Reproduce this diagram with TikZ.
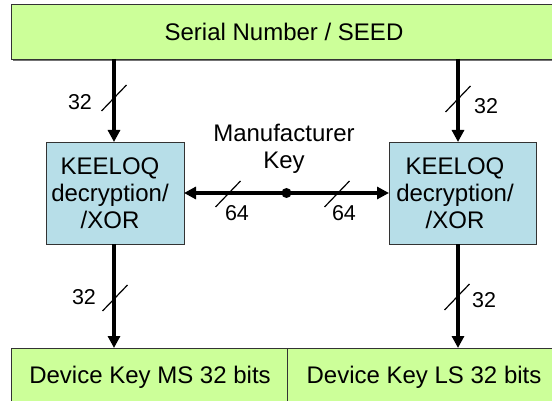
\documentclass[tikz,border=0pt]{standalone}
\usepackage{fontspec}
\setmainfont{Liberation Sans}
\usetikzlibrary{arrows.meta,calc,shadows}
\definecolor{lgreen}{HTML}{CCFF99}
\definecolor{lblue}{HTML}{B7DEE8}
\begin{document}
\begin{tikzpicture}[x=1pt,y=-1pt,
  every node/.style={inner sep=0pt, outer sep=0pt},
  greenbox/.style={draw=black!80, line width=0.9pt, fill=lgreen, rectangle, anchor=north west},
  keebox/.style={draw=black!80, line width=0.9pt, fill=lblue, rectangle, anchor=north west},
  txt/.style={font=\fontsize{24}{27}\selectfont, align=center},
  num/.style={font=\fontsize{21.5}{24}\selectfont},
  bus/.style={line width=4.8pt, -{Triangle[length=12pt,width=12pt]}},
  slash/.style={line width=1.2pt},
]
\useasboundingbox (0,0) rectangle (552,401);
% boxes
\node[greenbox, minimum width=547pt, minimum height=55pt,
      drop shadow={shadow xshift=1.5pt, shadow yshift=-2pt, fill=black!55, opacity=1}] (seed) at (11,4) {};
\node[txt, anchor=base] (seedt) at (284,41) {Serial Number / SEED};
\node[keebox, minimum width=138pt, minimum height=102pt] (k1) at (46,142) {};
\node[keebox, minimum width=147pt, minimum height=102pt] (k2) at (389,142) {};
\node[txt, anchor=north] (k1t) at (110,158) {KEELOQ\\decryption/\\/XOR};
\node[txt, anchor=north] (k2t) at (455,158) {KEELOQ\\decryption/\\/XOR};
\node[greenbox, minimum width=276pt, minimum height=70pt] (ms) at (11,348) {};
\node[greenbox, minimum width=276pt, minimum height=70pt] (ls) at (287,348) {};
\node[txt, anchor=base] (mst) at (150,383) {Device Key MS 32 bits};
\node[txt, anchor=base] (lst) at (424,383) {Device Key LS 32 bits};
\node[txt, anchor=north] (mk) at (284,124) {Manufacturer\\Key};
% columns
\coordinate (la) at (114,0);
\coordinate (ra) at (458,0);
% vertical buses
\draw[bus] (seed.south -| la) -- (k1.north -| la);
\draw[bus] (seed.south -| ra) -- (k2.north -| ra);
\draw[bus] (k1.south -| la) -- (ms.north -| la);
\draw[bus] (k2.south -| ra) -- (ls.north -| ra);
% horizontal bus
\node[circle, fill=black, minimum size=10pt] (dot) at ($(k1.east)!0.5!(k2.west)$) {};
\draw[line width=4.8pt, {Triangle[length=12pt,width=12pt]}-{Triangle[length=12pt,width=12pt]}] (k1.east) -- (k2.west);
% slashes
\coordinate (s1) at (114,98);
\coordinate (s2) at (458,99);
\coordinate (s3) at (115,298);
\coordinate (s4) at (457,297);
\coordinate (s5) at (228,194);
\coordinate (s6) at (337,194);
\foreach \s in {s1,s2,s3,s4,s5,s6}
  \draw[slash] ($(\s)+(-12.5,13)$) -- ($(\s)+(12.5,-13)$);
% numbers
\node[num] (n1) at (80,102) {32};
\node[num] (n2) at (486,106) {32};
\node[num] (n3) at (84,297) {32};
\node[num] (n4) at (484,300) {32};
\node[num] (n5) at (237,213) {64};
\node[num] (n6) at (344,213) {64};
\end{tikzpicture}
\end{document}
